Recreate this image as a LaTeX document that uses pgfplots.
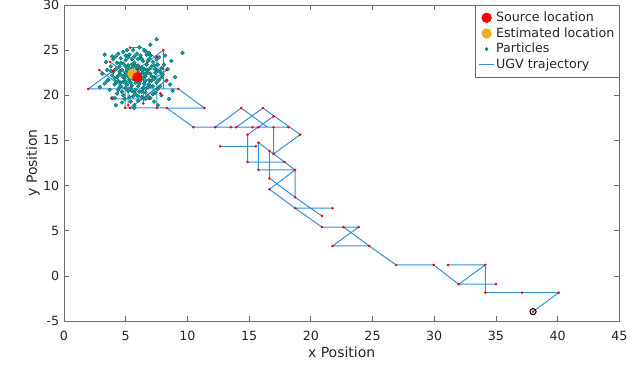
\documentclass[border=0pt]{standalone}
\usepackage{pgfplots}
\pgfplotsset{compat=1.18}
\usepackage{fontspec}
\setmainfont{DejaVu Sans}
\definecolor{trajblue}{rgb}{0.22,0.56,0.84}
\definecolor{axgray}{rgb}{0.42,0.42,0.42}
\definecolor{txtgray}{rgb}{0.15,0.15,0.15}
\definecolor{estorange}{rgb}{0.929,0.694,0.125}
\definecolor{tealfill}{rgb}{0.1,0.6,0.6}
\definecolor{tealedge}{rgb}{0,0.45,0.45}
\pgfplotsset{
  markleg/.style={legend image code/.code={\draw[mark repeat=2,mark phase=2,##1] plot coordinates {(0cm,0cm) (0.2cm,0cm) (0.4cm,0cm)};}},
  lineleg/.style={legend image code/.code={\draw[##1] (0cm,0cm) -- (0.4cm,0cm);}},
}
\begin{document}
\begin{tikzpicture}
\useasboundingbox (-48pt,-45pt) rectangle (432pt,240.75pt);
\begin{axis}[
  at={(0,0)}, anchor=south west,
  scale only axis, width=416.5pt, height=237pt,
  xmin=0, xmax=45, ymin=-5, ymax=30,
  xtick={0,5,...,45}, ytick={-5,0,...,30},
  tick align=inside, major tick length=3.75pt,
  axis line style={axgray, line width=0.5pt},
  every tick/.style={axgray, line width=0.5pt},
  tick label style={font=\fontsize{9.5}{11}\selectfont, text=txtgray},
  /pgf/number format/assume math mode=true,
  xticklabel style={yshift=-4pt},
  xlabel={x Position}, ylabel={y Position},
  every axis x label/.style={at={(axis description cs:0.5,-0.0981)}, anchor=center, font=\fontsize{10.5}{12}\selectfont, text=txtgray},
  every axis y label/.style={at={(axis description cs:-0.0558,0.5)}, anchor=center, rotate=90, font=\fontsize{10.5}{12}\selectfont, text=txtgray},
  legend style={at={(1,1)}, anchor=north east, draw=axgray, line width=0.5pt, fill=white,
    font=\fontsize{9.5}{11}\selectfont, text=txtgray, inner xsep=2.5pt, inner ysep=4pt, row sep=1pt,
    nodes={inner sep=1pt}},
  legend cell align=left,
]
% legend entries
\addlegendimage{only marks, color=red, mark=*, mark size=3.6pt, mark options={draw=red, fill=red}, markleg}
\addlegendentry{Source location}
\addlegendimage{only marks, color=estorange, mark=*, mark size=3.6pt, mark options={draw=estorange, fill=estorange}, markleg}
\addlegendentry{Estimated location}
\addlegendimage{only marks, color=tealfill, mark=*, mark size=1.2pt, mark options={draw=tealedge, fill=tealfill, line width=0.3pt}, markleg}
\addlegendentry{Particles}
\addlegendimage{color=trajblue, line width=0.75pt, lineleg}
\addlegendentry{UGV trajectory}

% particles
\addplot[only marks, color=tealfill, mark=*, mark size=1.45pt, mark options={draw=tealedge, fill=tealfill, line width=0.3pt}, forget plot] coordinates {
(5.8,22.3) (5.5,22.6) (6.1,22.0) (5.2,22.1) (6.4,22.5) (5.9,22.9) (5.6,21.8) (6.2,21.6) (5.0,22.5) (6.6,22.1)
(5.3,23.0) (6.0,23.3) (6.7,22.8) (4.9,21.9) (5.4,21.4) (6.5,21.3) (5.7,23.6) (6.3,23.1) (4.7,22.8) (7.0,22.4)
(5.1,21.2) (6.0,21.0) (6.9,21.7) (4.6,22.3) (5.5,24.0) (6.4,23.8) (7.1,23.2) (4.4,21.6) (5.8,20.6) (6.8,20.9)
(4.8,23.5) (7.3,22.0) (4.2,22.9) (5.2,20.5) (6.2,24.2) (7.5,21.4) (4.5,20.9) (6.6,20.3) (5.0,23.9) (7.2,23.7)
(3.9,22.2) (5.6,19.9) (7.6,22.7) (4.1,21.2) (6.9,24.0) (4.6,24.1) (7.8,21.0) (5.3,24.5) (3.8,23.2) (6.3,19.8)
(7.4,20.3) (4.3,20.2) (5.9,24.6) (8.0,22.3) (3.6,21.7) (7.0,19.7) (4.9,19.6) (6.7,24.5) (8.1,23.4) (3.7,20.6)
(4.0,24.0) (7.7,24.2) (5.4,19.3) (6.0,19.4) (8.3,21.6) (3.5,22.8) (4.4,24.6) (7.9,20.0) (6.5,25.0) (5.1,25.0)
(8.4,22.9) (3.3,21.3) (4.7,19.2) (7.3,19.3) (3.4,23.7) (8.6,21.2) (6.1,25.3) (4.1,19.7) (8.2,24.4) (5.7,18.9)
(5.7,22.1) (6.0,22.6) (5.4,22.3) (6.2,22.3) (5.9,21.7) (5.6,23.1) (6.3,21.9) (5.1,22.8) (6.8,22.5) (5.3,21.7)
(6.1,23.0) (4.9,22.2) (6.6,21.6) (5.8,23.3) (5.5,21.1) (6.4,20.8) (4.8,21.5) (7.1,22.1) (5.2,23.3) (6.7,23.4)
(4.5,23.2) (7.4,22.9) (5.7,20.3) (6.0,24.0) (4.3,22.0) (6.9,21.2) (5.4,20.8) (7.2,21.0) (4.6,21.0) (5.9,20.0)
(5.0,21.5) (6.5,22.9) (5.6,22.5) (6.3,20.4) (4.2,21.5) (7.6,23.4) (5.2,24.2) (6.8,19.9) (4.7,20.4) (7.9,22.0)
(4.5,22.6) (4.8,22.0) (5.0,23.2) (5.3,22.5) (5.5,23.4) (5.8,21.4) (6.1,21.3) (6.4,21.9) (6.6,22.4) (6.9,22.9)
(7.1,21.6) (6.8,23.8) (6.3,24.0) (5.7,24.3) (5.0,24.4) (4.6,23.6) (4.4,22.2) (4.6,21.4) (5.0,20.8) (5.5,20.5)
(6.1,20.4) (6.6,20.7) (7.0,21.0) (7.3,21.8) (7.4,22.5) (7.3,23.3) (6.0,21.9) (5.4,22.8) (6.3,22.8) (5.8,22.7)
(4.3,23.6) (4.0,22.6) (4.1,21.9) (4.4,20.6) (4.8,20.0) (5.3,19.8) (6.0,19.9) (6.6,19.6) (7.2,20.1) (7.6,20.7)
(7.7,21.7) (7.8,22.6) (7.9,23.0) (7.5,24.0) (7.0,24.4) (6.6,24.9) (5.6,25.0) (4.8,24.8) (4.2,24.3) (3.8,22.7)
(7.5,26.2) (9.6,24.7) (5.7,18.6) (3.9,19.7) (8.7,23.8) (9.0,22.0) (3.1,22.4) (4.2,18.9) (8.8,20.5) (3.9,24.3)
(2.9,20.9) (7.6,18.9) (3.5,21.6) (6.9,24.7) (6.2,24.4) (8.5,19.6) (3.3,24.5) (7.0,25.6)
};

% UGV trajectory
\addplot[color=trajblue, line width=0.75pt, unbounded coords=jump, forget plot] coordinates {
(38.01,-3.96) (40.09,-1.86) (34.14,-1.86) (34.14,1.21) (31.12,1.21) (nan,nan)
(34.14,1.21) (31.98,-0.93) (35.01,-0.93) (nan,nan)
(31.98,-0.93) (29.95,1.21) (26.90,1.21) (24.74,3.31) (21.76,3.31) (23.87,5.40) (20.90,5.40) (18.73,7.49) (21.76,7.49) (nan,nan)
(22.65,5.40) (24.74,3.31) (nan,nan)
(20.90,6.63) (18.73,8.70) (16.65,10.81) (16.65,13.83) (nan,nan)
(18.73,7.49) (16.65,9.59) (18.73,11.73) (18.73,8.70) (nan,nan)
(18.73,11.73) (15.76,11.73) (15.76,14.75) (18.73,11.73) (nan,nan)
(17.87,12.61) (14.87,12.61) (14.87,15.64) (16.98,17.67) (nan,nan)
(12.65,14.35) (15.55,14.35) (nan,nan)
(16.98,13.50) (19.14,15.64) (16.12,18.59) (13.95,16.46) (nan,nan)
(16.98,16.46) (16.98,13.50) (nan,nan)
(12.25,16.46) (14.36,18.59) (16.50,16.46) (nan,nan)
(18.19,16.46) (10.49,16.46) (8.33,18.59) (11.38,18.59) (9.27,20.70) (1.97,20.70) (4.00,22.75) (nan,nan)
(2.86,22.80) (4.95,20.70) (nan,nan)
(4.95,21.70) (4.95,18.60) (8.33,18.60) (nan,nan)
(8.05,25.00) (8.05,20.70) (nan,nan)
(8.05,25.00) (6.00,22.90) (8.33,22.90) (nan,nan)
(8.33,22.80) (6.20,20.70) (nan,nan)
(7.52,18.60) (7.52,24.30) (nan,nan)
(5.35,18.60) (7.45,20.70) (nan,nan)
(3.90,19.60) (6.90,19.60) (nan,nan)
(3.73,23.70) (5.80,21.60) (nan,nan)
(5.20,18.90) (5.20,23.50) (nan,nan)
(5.35,25.27) (6.30,25.27) (7.50,24.10) (nan,nan)
(6.43,19.10) (6.43,23.00) (nan,nan)
(8.33,21.70) (6.30,19.60)
};

% waypoint dots
\addplot[only marks, color=red, mark=*, mark size=0.75pt, mark options={draw=red, fill=red}, forget plot] coordinates {
(38.01,-3.96) (40.09,-1.86) (37.12,-1.86) (34.14,-1.86) (34.14,1.21) (31.12,1.21) (31.98,-0.93) (35.01,-0.93)
(29.95,1.21) (26.90,1.21) (24.74,3.31) (21.76,3.31) (23.87,5.40) (22.65,5.40) (20.90,5.40) (18.73,7.49)
(21.76,7.49) (20.90,6.63) (18.73,8.70) (16.65,9.59) (16.65,10.81) (18.73,11.73) (15.76,11.73) (16.65,13.83)
(15.76,14.75) (17.87,12.61) (14.87,12.61) (14.87,15.64) (16.98,17.67) (12.65,14.35) (15.55,14.35) (16.98,13.50)
(19.14,15.64) (16.12,18.59) (13.95,16.46) (16.98,16.46) (12.25,16.46) (13.52,16.46) (14.36,18.59) (15.27,16.46)
(15.76,16.46) (18.19,16.46) (10.49,16.46) (8.33,18.59) (11.38,18.59) (9.27,20.70) (1.97,20.70) (2.86,22.80)
(4.00,22.75) (4.95,18.60) (8.05,25.00) (7.52,18.60) (7.52,24.30) (8.33,22.80) (8.33,21.70) (6.00,22.90)
(3.90,19.60) (6.90,19.60) (3.73,23.70) (6.43,19.10) (5.35,18.60) (5.35,25.27) (7.80,20.20) (5.20,18.90)
};

% start point
\addplot[only marks, color=black, mark=o, mark size=2.3pt, mark options={line width=0.8pt}, forget plot] coordinates {(38.01,-3.96)};

% estimated and source
\addplot[only marks, color=estorange, mark=*, mark size=3.7pt, mark options={draw=estorange, fill=estorange}, forget plot] coordinates {(5.55,22.4)};
\addplot[only marks, color=red, mark=*, mark size=3.6pt, mark options={draw=red, fill=red}, forget plot] coordinates {(5.95,22.0)};
\end{axis}
\end{tikzpicture}
\end{document}
